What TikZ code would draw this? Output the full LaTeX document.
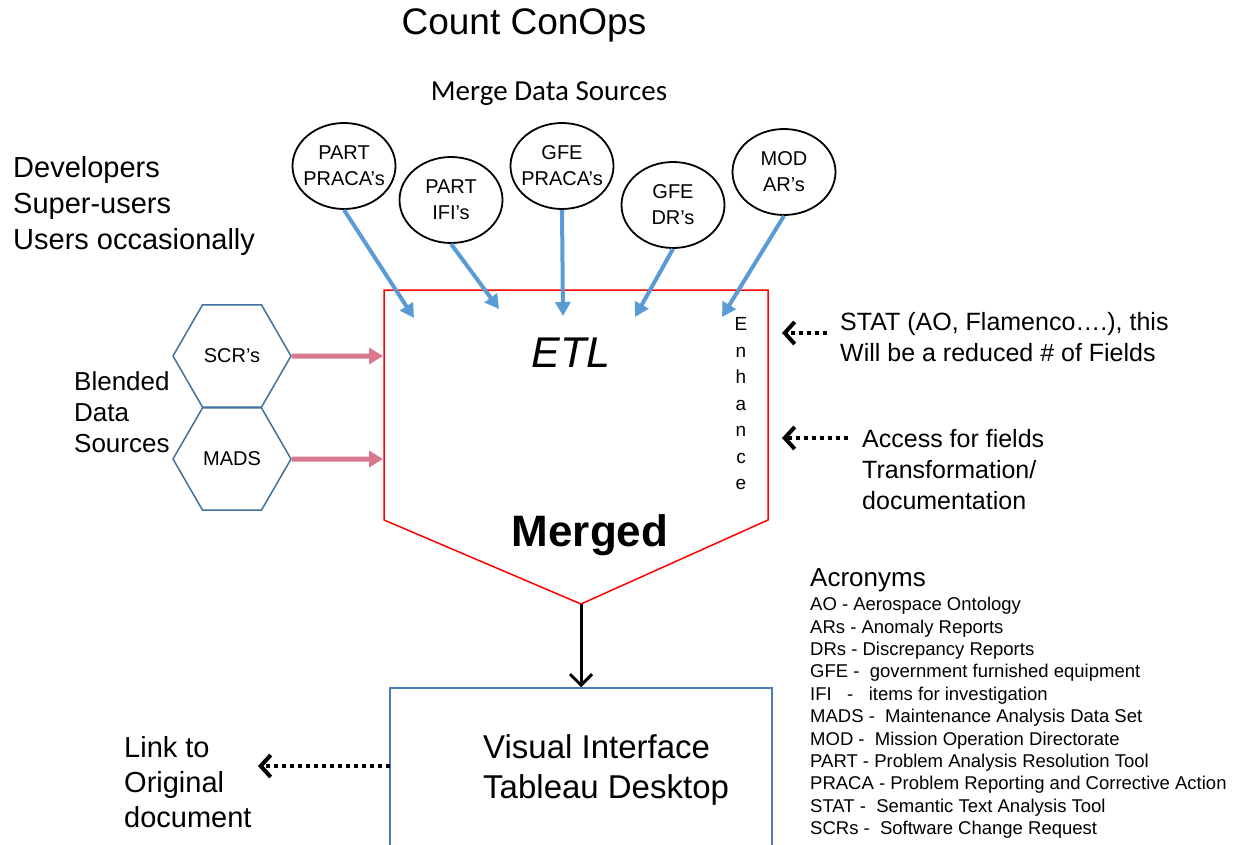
\documentclass[tikz,border=0pt]{standalone}
\usepackage{fontspec}
\setmainfont{Liberation Sans}
\newfontfamily\calibri{Carlito}
\usepackage{tikz}
\usetikzlibrary{positioning,shapes.geometric,arrows.meta}
\definecolor{feedblue}{HTML}{5B9BD5}
\definecolor{hexblue}{HTML}{41719C}
\definecolor{blendpink}{HTML}{D9778E}
\definecolor{boxblue}{HTML}{4A7EBB}
\newcommand{\setfs}[2]{\fontsize{#1}{#2}\selectfont}

\begin{document}
\begin{tikzpicture}[x=1pt,y=-1pt,
  src/.style={draw,ellipse,line width=1.8pt,minimum width=103pt,minimum height=86pt,inner sep=-10pt,align=center,font=\setfs{20}{26}},
  hexa/.style={draw=hexblue,regular polygon,regular polygon sides=6,minimum size=118pt,line width=1.5pt,inner sep=0pt,font=\setfs{20}{24}},
  note/.style={anchor=west,align=left,inner sep=0pt},
  feed/.style={feedblue,line width=4pt,-{Triangle[length=14pt,width=15pt]}},
  blend/.style={blendpink,line width=5pt,-{Triangle[length=14pt,width=16pt]}},
  hint/.style={line width=4pt,dash pattern=on 4pt off 4pt,-{Straight Barb[length=10pt,width=22pt]}}]
\useasboundingbox (0,0) rectangle (1239,845);

% titles
\node[font=\setfs{37}{40}] (title) at (524,25) {Count ConOps};
\node[font=\calibri\setfs{29}{32}] (merge) at (549,94) {Merge Data Sources};
\node[note,font=\setfs{29}{36}] (users) at (13,206) {Developers\\Super-users\\Users occasionally};

% data sources
\node[src] (pp) at (344,166) {PART\\PRACA's};
\node[src] (pi) at (451,200) {PART\\IFI's};
\node[src] (gp) at (562,166) {GFE\\PRACA's};
\node[src] (gd) at (673,205) {GFE\\DR's};
\node[src] (ma) at (784,172) {MOD\\AR's};

% merge funnel
\coordinate (apex) at (581,604);
\draw[red,line width=1.5pt] (384,290) -- (768,290) -- (768,520) -- (apex) -- (384,520) -- cycle;
\coordinate (t1) at (414,318);
\coordinate (t2) at (499,309);
\coordinate (t3) at (563,316);
\coordinate (t4) at (635,317);
\coordinate (t5) at (722,317);
\draw[feed] (pp.south) -- (t1);
\draw[feed] (pi.south) -- (t2);
\draw[feed] (gp.south) -- (t3);
\draw[feed] (gd.south) -- (t4);
\draw[feed] (ma.south) -- (t5);

\node[font=\itshape\setfs{43}{46}] (etl) at (571,353) {ETL};
\node[align=center,font=\setfs{19}{26.5}] (enh) at (741,404) {E\\n\\h\\a\\n\\c\\e};
\node[font=\bfseries\setfs{44}{48}] (merged) at (590,535) {Merged};

% blended sources
\node[note,font=\setfs{26}{31}] (blended) at (74,412) {Blended\\Data\\Sources};
\node[hexa] (scr) at (232,356) {SCR's};
\node[hexa] (mads) at (232,459) {MADS};
\coordinate (inscr) at (383,356);
\coordinate (inmads) at (383,459);
\draw[blend] (scr.east) -- (inscr);
\draw[blend] (mads.east) -- (inmads);

% notes on the right
\node[note,font=\setfs{25}{31}] (stat) at (840,337) {STAT (AO, Flamenco\dots.), this\\Will be a reduced \# of Fields};
\node[note,font=\setfs{25}{31}] (access) at (862,470) {Access for fields\\Transformation/\\documentation};
\coordinate (stattail) at (827,333);
\coordinate (stattip) at (782,333);
\coordinate (accesstail) at (848,438);
\coordinate (accesstip) at (782,438);
\draw[hint] (stattail) -- (stattip);
\draw[hint] (accesstail) -- (accesstip);

% visual interface
\node[draw=boxblue,line width=1.5pt,minimum width=382pt,minimum height=200pt] (viz) at (581,788) {};
\node[note,font=\setfs{33}{40}] (vizlabel) at (483,770) {Visual Interface\\Tableau Desktop};
\draw[line width=3pt,-{Straight Barb[length=11pt,width=22pt]}] (apex) -- (viz.north);

\node[note,font=\setfs{29}{35}] (link) at (124,782) {Link to\\Original\\document};
\coordinate (linktail) at (390,766);
\coordinate (linktip) at (258,766);
\draw[hint] (linktail) -- (linktip);

% acronyms
\node[note,font=\setfs{26}{28}] (acro) at (810,580) {Acronyms};
\node[note,font=\setfs{18.5}{22.4}] (acrolist) at (810,718) {AO - Aerospace Ontology\\
ARs - Anomaly Reports\\
DRs - Discrepancy Reports\\
GFE -\ \ government furnished equipment\\
IFI\ \ \ -\ \ \ items for investigation\\
MADS -\ \ Maintenance Analysis Data Set\\
MOD -\ \ Mission Operation Directorate\\
PART - Problem Analysis Resolution Tool\\
PRACA - Problem Reporting and Corrective Action\\
STAT -\ \ Semantic Text Analysis Tool\\
SCRs -\ \ Software Change Request};
\end{tikzpicture}
\end{document}
